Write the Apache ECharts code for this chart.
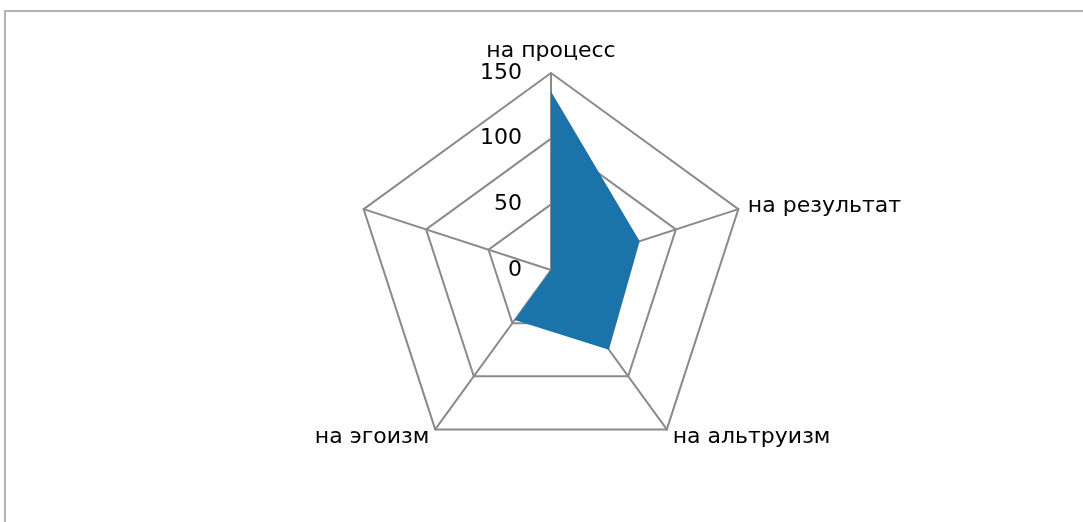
<!DOCTYPE html>
<html>
<head>
<meta charset="utf-8">
<script src="https://cdn.jsdelivr.net/npm/echarts@6/dist/echarts.min.js"></script>
<style>
  html, body { margin: 0; padding: 0; background: #fff; }
  #frame { position: absolute; left: 4px; top: 10px; width: 1100px; height: 530px;
           border-left: 2px solid #b4b4b4; border-top: 2px solid #b4b4b4; }
  #main { position: absolute; left: 0; top: 0; width: 1083px; height: 522px; }
</style>
</head>
<body>
<div id="frame"></div>
<div id="main"></div>
<script>
// radar axes, in the order echarts lays them out (counter-clockwise from the top)
var indicators = ['на процесс', '', 'на эгоизм', 'на альтруизм', 'на результат']
var values = [136, 0, 47, 75, 71]
var axisMax = 150

var chart = echarts.init(document.getElementById('main'))

chart.setOption({
  animation: false,
  radar: {
    center: [551, 270],
    radius: 197,
    startAngle: 90,
    splitNumber: 3,
    shape: 'polygon',
    indicator: indicators.map(function (name, i) {
      var ind = { name: name, min: 0, max: axisMax }
      if (i === 0) {
        // only the top axis shows its scale
        ind.axisLabel = { show: true, color: '#000', fontSize: 22, fontFamily: 'DejaVu Sans', margin: 29 }
      }
      return ind
    }),
    axisName: { color: '#000', fontSize: 22, fontFamily: 'DejaVu Sans' },
    nameGap: 10,
    axisLabel: { show: false },
    axisLine: { lineStyle: { color: '#8a8a8a', width: 2 } },
    splitLine: { lineStyle: { color: '#8a8a8a', width: 2 } },
    splitArea: { show: false }
  },
  series: [{
    type: 'radar',
    symbol: 'none',
    lineStyle: { width: 0, color: '#1a73a9' },
    areaStyle: { color: '#1a73a9', opacity: 1 },
    data: [{ value: values }]
  }]
})
</script>
</body>
</html>
